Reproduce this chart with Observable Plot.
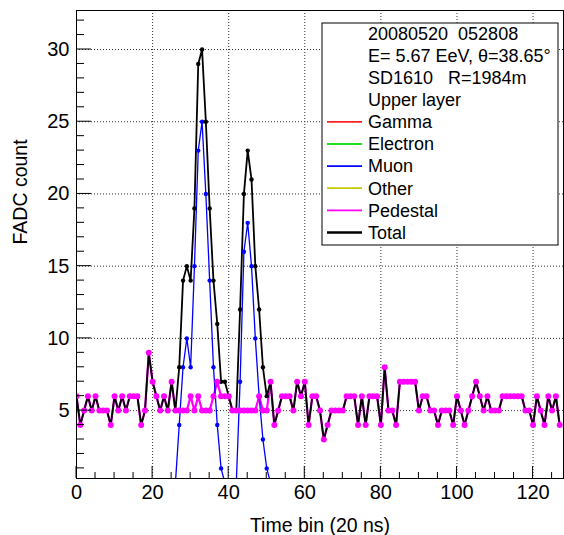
<!DOCTYPE html>
<html><head><meta charset="utf-8">
<script src="https://cdn.jsdelivr.net/npm/d3@7"></script>
<script src="https://cdn.jsdelivr.net/npm/@observablehq/plot@0.6"></script>
<style>
body{margin:0;background:#fff;}
#chart{width:564px;height:535px;}
#chart svg{font-family:"Liberation Sans",Arial,Helvetica,sans-serif;}
</style></head><body><div id="chart"></div>
<script>
// FADC counts per 20 ns time bin (index = time bin)
const pedestal = [
  6,4,5,6,5,6,5,5,5,4, 6,5,6,5,6,6,6,4,5,9,
  7,6,5,6,5,7,5,5,5,5, 6,5,6,5,5,5,6,7,6,6,
  6,5,5,5,5,5,5,5,6,5, 5,7,4,5,6,6,6,5,7,6,
  7,4,6,6,5,3,4,5,5,5, 5,6,6,6,4,6,4,6,6,6,
  4,8,5,5,4,7,7,7,7,7, 5,6,6,5,5,4,5,5,5,4,
  6,5,4,5,6,7,6,5,6,5, 5,5,6,6,6,6,6,6,5,5,
  4,6,5,4,6,5,6,4];
const total = [
  6,4,5,6,5,6,5,5,5,4, 6,5,6,5,6,6,6,4,5,9,
  7,6,5,6,5,7,5,8,14,15, 14,19,29,30,25,19,14,11,7,7,
  6,5,5,12,20,23,21,15,12,8, 6,7,4,5,6,6,6,5,7,6,
  7,4,6,6,5,3,4,5,5,5, 5,6,6,6,4,6,4,6,6,6,
  4,8,5,5,4,7,7,7,7,7, 5,6,6,5,5,4,5,5,5,4,
  6,5,4,5,6,7,6,5,6,5, 5,5,6,6,6,6,6,6,5,5,
  4,6,5,4,6,5,6,4];
const muon = [
  0,0,0,0,0,0,0,0,0,0, 0,0,0,0,0,0,0,0,0,0,
  0,0,0,0,0,0,0,4,8,10, 8,15,23,25,20,14,8,4,1,0,
  0,0,0,7,16,18,15,10,6,3, 1,0,0,0,0,0,0,0,0,0,
  0,0,0,0,0,0,0,0,0,0, 0,0,0,0,0,0,0,0,0,0,
  0,0,0,0,0,0,0,0,0,0, 0,0,0,0,0,0,0,0,0,0,
  0,0,0,0,0,0,0,0,0,0, 0,0,0,0,0,0,0,0,0,0,
  0,0,0,0,0,0,0,0];

const xTicks = [0,20,40,60,80,100,120];
const xMinorTicks = [5,10,15,25,30,35,45,50,55,65,70,75,85,90,95,105,110,115,125];
const yTicks = [5,10,15,20,25,30];
const yMinorTicks = [1,2,3,4,6,7,8,9,11,12,13,14,16,17,18,19,21,22,23,24,26,27,28,29,31,32];
const xTitle = "Time bin (20 ns)";
const yTitle = "FADC count";
const legendHeader = ["20080520  052808", "E= 5.67 EeV, θ=38.65°", "SD1610   R=1984m", "Upper layer"];
const seriesNames = ["Gamma","Electron","Muon","Other","Pedestal","Total"];
const seriesColors = ["#ff2020","#20e020","#0000ff","#c8c800","#ff00ff","#000000"];

const col = Object.fromEntries(seriesNames.map((n,i)=>[n, seriesColors[i]]));
const idx = (d,i) => i;
const val = d => d;
const FONT = '"Liberation Sans",Arial,Helvetica,sans-serif';

const chart = Plot.plot({
  width: 564, height: 535,
  marginLeft: 76, marginRight: 1, marginTop: 10, marginBottom: 57,
  x: {domain: [0,128]},
  y: {domain: [0.3,32.7]},
  style: {fontFamily: FONT, fontSize: "20px", color: "#000", background: "#fff"},
  marks: [
    Plot.ruleX(xTicks.filter(d => d > 0), {stroke: "#333", strokeDasharray: "1,2", strokeWidth: 1}),
    Plot.ruleY(yTicks, {stroke: "#333", strokeDasharray: "1,2", strokeWidth: 1}),
    Plot.line(pedestal, {x: idx, y: val, stroke: col.Pedestal, strokeWidth: 2.2, clip: true}),
    Plot.line(muon, {x: idx, y: val, stroke: col.Muon, strokeWidth: 1.3, clip: true}),
    Plot.line(total, {x: idx, y: val, stroke: col.Total, strokeWidth: 1.8, clip: true}),
    Plot.dot(muon, {x: idx, y: val, r: 2.2, fill: col.Muon, clip: true}),
    Plot.dot(total, {x: idx, y: val, r: 2.2, fill: col.Total, clip: true}),
    Plot.dot(pedestal, {x: idx, y: val, r: 3, fill: col.Pedestal, clip: true}),
    Plot.frame({stroke: "#000", strokeWidth: 1}),
    Plot.axisX(xTicks, {tickSize: 0, tickPadding: 6, label: null, fontSize: 20}),
    Plot.axisY(yTicks, {tickSize: 0, tickPadding: 7, label: null, fontSize: 20}),
    Plot.text([xTitle], {frameAnchor: "bottom", dy: 47, text: d => d, fontSize: 19.5, lineAnchor: "middle"}),
    Plot.text([yTitle], {frameAnchor: "left", dx: -56, rotate: -90, text: d => d, fontSize: 19.5, lineAnchor: "middle"})
  ]
});
document.getElementById("chart").appendChild(chart);

const svg = d3.select(chart);
const sx = chart.scale("x"), sy = chart.scale("y");
const [fx0, fx1] = sx.range, [fy0, fy1] = sy.range; // fy0 = bottom, fy1 = top

// Inward ROOT-style ticks, placed through the Plot scales
const tg = svg.append("g").attr("class", "inner-ticks").attr("stroke", "#000").attr("stroke-width", 1);
const addX = (vals, len) => vals.forEach(v => {
  const px = sx.apply(v);
  tg.append("line").attr("x1", px).attr("x2", px).attr("y1", fy0).attr("y2", fy0 - len);
});
const addY = (vals, len) => vals.forEach(v => {
  const py = sy.apply(v);
  tg.append("line").attr("x1", fx0).attr("x2", fx0 + len).attr("y1", py).attr("y2", py);
});
addX(xTicks, 12); addX(xMinorTicks, 6);
addY(yTicks, 15); addY(yMinorTicks, 8);

// Legend box (ROOT TLegend style) inside the frame
const g = svg.append("g").attr("class", "legend")
  .style("font-family", FONT).style("font-size", "18px").attr("text-anchor", "start");
g.append("rect").attr("x", 322).attr("y", 23).attr("width", 236).attr("height", 222)
  .attr("fill", "#fff").attr("stroke", "#000").attr("stroke-width", 1);
const rows = legendHeader.map(t => ({text: t, color: null}))
  .concat(seriesNames.map((n,i) => ({text: n, color: seriesColors[i]})));
rows.forEach((r, i) => {
  const cy = 33.5 + i * 22.1;
  if (r.color) {
    g.append("line").attr("x1", 327).attr("x2", 362).attr("y1", cy).attr("y2", cy)
      .attr("stroke", r.color).attr("stroke-width", r.text === "Total" ? 2.5 : 1.8);
  }
  g.append("text").attr("x", 368).attr("y", cy).attr("dy", "0.35em").attr("text-anchor", "start")
    .style("white-space", "pre").attr("xml:space", "preserve").attr("fill", "#000").text(r.text);
});
</script>
</body></html>
